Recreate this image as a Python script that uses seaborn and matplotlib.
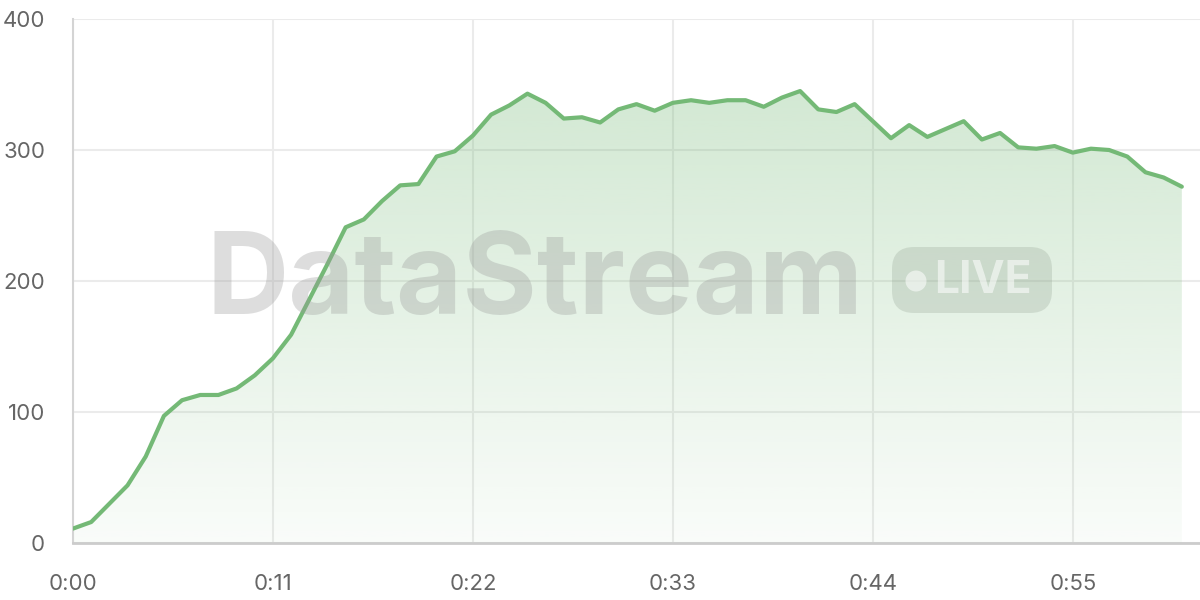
import numpy as np
import pandas as pd
import matplotlib.pyplot as plt
import seaborn as sns
from matplotlib.patches import FancyBboxPatch, Circle
from matplotlib.transforms import IdentityTransform

sns.set_theme(style="whitegrid")
plt.rcParams['font.family'] = ['Inter', 'DejaVu Sans']

# data: one value per second
seconds = list(range(62))
values = [11, 16, 30, 44, 66, 97, 109, 113, 113, 118, 128, 141, 159, 186, 213,
          241, 247, 261, 273, 274, 295, 299, 311, 327, 334, 343, 336, 324, 325,
          321, 331, 335, 330, 336, 338, 336, 338, 338, 333, 340, 345, 331, 329,
          335, 322, 309, 319, 310, 316, 322, 308, 313, 302, 301, 303, 298, 301,
          300, 295, 283, 279, 272]
tick_pos = [0, 11, 22, 33, 44, 55]
tick_labels = ["0:00", "0:11", "0:22", "0:33", "0:44", "0:55"]

df = pd.DataFrame({"t": seconds, "v": values})

green = "#74b976"
grid_c = "#ebebeb"
text_c = "#666666"

fig = plt.figure(figsize=(12, 6), dpi=100)
ax = fig.add_axes([73 / 1200, 57 / 600, 1127 / 1200, 524 / 600])
ax.set_facecolor("white")

# gradient fill under the line
poly = ax.fill_between(df["t"], df["v"], 0, color="none", lw=0)
grad = np.linspace(0.04, 0.32, 256).reshape(-1, 1)
rgba = np.zeros((256, 1, 4))
rgba[..., :3] = np.array([0x74, 0xb9, 0x76]) / 255
rgba[..., 3] = grad
img = ax.imshow(rgba, extent=[0, 61, 0, max(values)], origin="lower",
                aspect="auto", zorder=1)
path = poly.get_paths()[0]
img.set_clip_path(path, transform=ax.transData)

sns.lineplot(data=df, x="t", y="v", ax=ax, color=green, lw=3, zorder=3)

ax.set_xlim(0, 62)
ax.set_ylim(0, 400)
ax.set_xticks(tick_pos)
ax.set_xticklabels(tick_labels)
ax.set_yticks([0, 100, 200, 300, 400])
ax.set_xlabel("")
ax.set_ylabel("")
ax.grid(True, color=grid_c, lw=1.5)
ax.tick_params(axis="both", length=14, width=1.5, color=grid_c,
               labelsize=16, labelcolor=text_c, pad=6)
ax.tick_params(axis="x", pad=8)
for s in ["top", "right"]:
    ax.spines[s].set_visible(False)
ax.spines["left"].set_color("#d4d4d4")
ax.spines["left"].set_linewidth(1.5)
ax.spines["bottom"].set_color("#cccccc")
ax.spines["bottom"].set_linewidth(2)
ax.spines["left"].set_zorder(2)

# watermark (pixel coordinates, origin bottom-left)
fig.text(0.446, 0.527, "DataStream", fontsize=82, fontweight="bold",
         color="#9a9a9a", alpha=0.33, ha="center", va="center", zorder=5)
px = IdentityTransform()
pill = FancyBboxPatch((892, 287), 160, 66,
                      boxstyle="round,pad=0,rounding_size=22",
                      transform=px, facecolor="#8a9a8a",
                      alpha=0.25, edgecolor="none", zorder=5)
fig.patches.append(pill)
fig.patches.append(Circle((916, 319), 10.5, transform=px, facecolor="white",
                          alpha=0.55, edgecolor="none", zorder=6))
fig.text(983 / 1200, 1 - 281 / 600, "LIVE", fontsize=32, fontweight="bold",
         color="white", alpha=0.55, ha="center", va="center", zorder=6)

fig.savefig("out.png", dpi=100, facecolor="white")
